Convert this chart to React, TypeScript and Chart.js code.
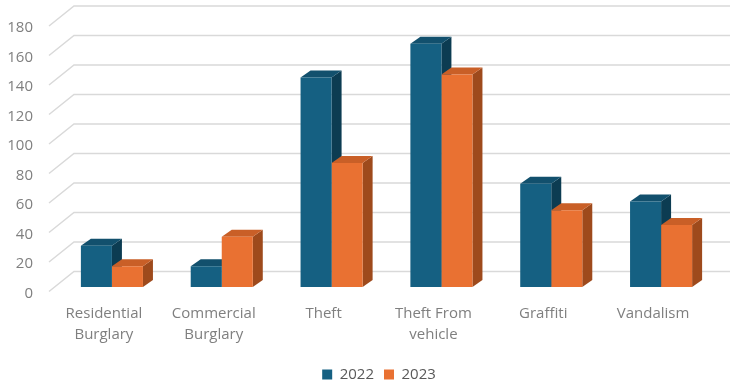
import React, { useEffect, useRef } from "react";
import { Chart, registerables } from "chart.js";

Chart.register(...registerables);

const categories: (string | string[])[] = [
  ["Residential", "Burglary"],
  ["Commercial", "Burglary"],
  "Theft",
  ["Theft From", "vehicle"],
  "Graffiti",
  "Vandalism",
];
const series2022 = [28, 14, 142, 165, 70, 58];
const series2023 = [14, 34, 84, 144, 52, 42];
const seriesNames = ["2022", "2023"];
const yTicks = [0, 20, 40, 60, 80, 100, 120, 140, 160, 180];

const FRONT = ["#156082", "#E97132"];
const TOP = ["#12506d", "#c95f27"];
const SIDE = ["#0c3c52", "#9e4a1c"];
const DX = 10;
const DY = -7;
const LEGEND_SHIFT = 21;

const threeD = {
  id: "threeD",
  afterLayout(chart: any) {
    const lg = chart.legend;
    if (lg) {
      lg.left += LEGEND_SHIFT;
      lg.right += LEGEND_SHIFT;
    }
  },
  beforeDatasetsDraw(chart: any) {
    const ctx = chart.ctx;
    const ys = chart.scales.y;
    const area = chart.chartArea;
    ctx.save();
    ctx.strokeStyle = "#d9d9d9";
    ctx.lineWidth = 1.5;
    yTicks.forEach((v) => {
      const y = ys.getPixelForValue(v);
      ctx.beginPath();
      ctx.moveTo(area.left - 8, y + 4.5);
      ctx.lineTo(area.left + 17, y - 15.5);
      ctx.lineTo(730, y - 15.5);
      ctx.stroke();
    });
    ctx.restore();
    ctx.save();
    const n = chart.data.labels.length;
    for (let j = 0; j < n; j++) {
      chart.data.datasets.forEach((_: any, i: number) => {
        const el = chart.getDatasetMeta(i).data[j];
        if (!el) return;
        const { x, y, base, width } = el.getProps(["x", "y", "base", "width"], true);
        const l = x - width / 2;
        const r = x + width / 2;
        ctx.fillStyle = SIDE[i];
        ctx.beginPath();
        ctx.moveTo(r, base);
        ctx.lineTo(r, y);
        ctx.lineTo(r + DX, y + DY);
        ctx.lineTo(r + DX, base + DY);
        ctx.closePath();
        ctx.fill();
        ctx.fillStyle = TOP[i];
        ctx.beginPath();
        ctx.moveTo(l, y);
        ctx.lineTo(r, y);
        ctx.lineTo(r + DX, y + DY);
        ctx.lineTo(l + DX, y + DY);
        ctx.closePath();
        ctx.fill();
      });
    }
    ctx.restore();
  },
};

export default function App() {
  const ref = useRef<HTMLCanvasElement>(null);
  useEffect(() => {
    if (!ref.current) return;
    const chart = new Chart(ref.current, {
      type: "bar",
      data: {
        labels: categories,
        datasets: [
          { label: seriesNames[0], data: series2022, backgroundColor: FRONT[0], borderWidth: 0 },
          { label: seriesNames[1], data: series2023, backgroundColor: FRONT[1], borderWidth: 0 },
        ],
      },
      options: {
        animation: false,
        responsive: false,
        maintainAspectRatio: false,
        layout: { padding: { left: 0, right: 18, top: 21.5, bottom: 0 } },
        datasets: { bar: { categoryPercentage: 0.565, barPercentage: 1.0 } },
        plugins: {
          legend: {
            position: "bottom",
            labels: {
              boxWidth: 10,
              boxHeight: 10,
              padding: 10,
              color: "#595959",
              font: { family: "Open Sans", size: 15 },
            },
          },
          tooltip: { enabled: false },
        },
        scales: {
          x: {
            grid: { display: false, drawTicks: false },
            border: { display: false },
            ticks: {
              color: "#7f7f7f",
              font: { family: "Open Sans", size: 15, lineHeight: 1.4 },
              padding: 16.5,
              labelOffset: -8,
              maxRotation: 0,
              autoSkip: false,
            },
            afterFit: (s: any) => {
              s.height = 70;
              s.paddingLeft = 0;
              s.paddingRight = 0;
            },
          },
          y: {
            min: 0,
            max: 180,
            grid: { display: false, drawTicks: false },
            border: { display: false },
            ticks: {
              stepSize: 20,
              color: "#7f7f7f",
              font: { family: "Open Sans", size: 15 },
              padding: 24,
              labelOffset: 6.5,
            },
            afterFit: (s: any) => {
              s.width = 57;
              s.paddingTop = 0;
              s.paddingBottom = 0;
            },
          },
        },
      },
      plugins: [threeD],
    });
    return () => chart.destroy();
  }, []);
  return (
    <div style={{ position: "fixed", left: 0, top: 0, width: 734, height: 387, overflow: "hidden", background: "#fff" }}>
      <canvas ref={ref} width={734} height={392} style={{ display: "block", width: 734, height: 392 }} />
    </div>
  );
}
